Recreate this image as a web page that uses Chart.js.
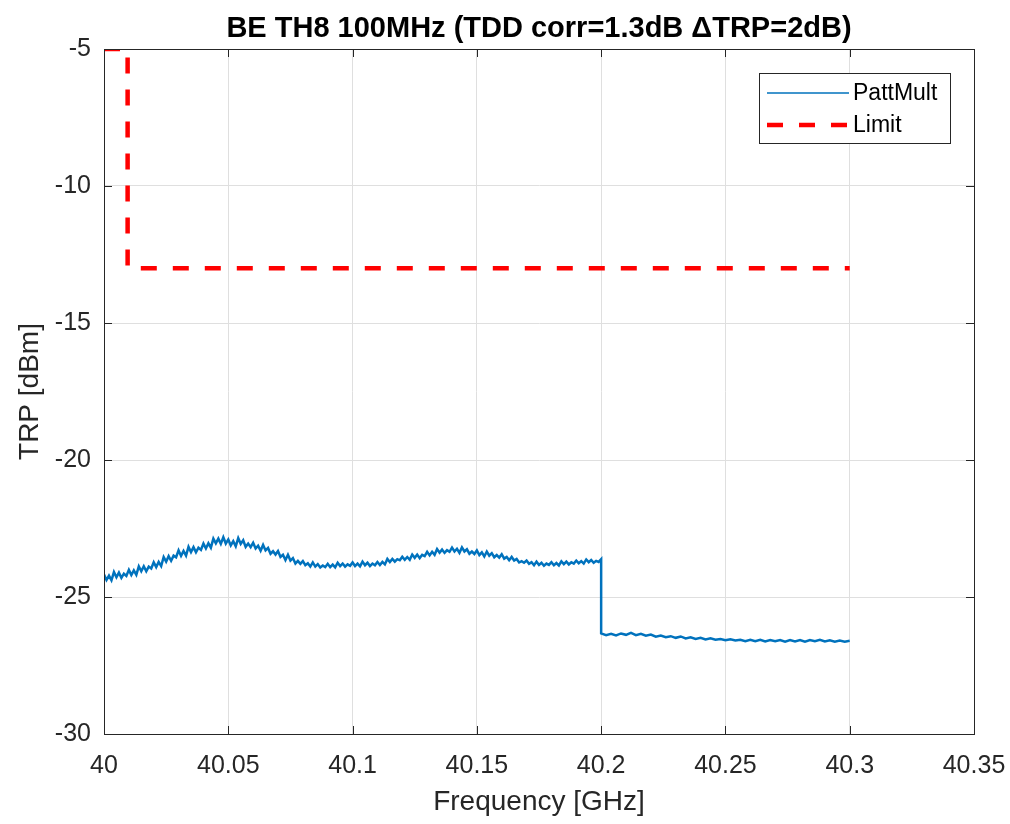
<!DOCTYPE html>
<html>
<head>
<meta charset="utf-8">
<script src="https://cdn.jsdelivr.net/npm/chart.js@4/dist/chart.umd.min.js"></script>
<style>
html,body{margin:0;padding:0;background:#fff;}
#wrap{width:1010px;height:824px;}
</style>
</head>
<body>
<div id="wrap"><canvas id="c" width="1010" height="824"></canvas></div>
<script>
// ---- data ----
const titleText = 'BE TH8 100MHz (TDD corr=1.3dB \u0394TRP=2dB)';
const xTitle = 'Frequency [GHz]';
const yTitle = 'TRP [dBm]';
const xTicks = [40, 40.05, 40.1, 40.15, 40.2, 40.25, 40.3, 40.35];
const xTickLabels = ['40', '40.05', '40.1', '40.15', '40.2', '40.25', '40.3', '40.35'];
const yTicks = [-30, -25, -20, -15, -10, -5];
const yTickLabels = ['-30', '-25', '-20', '-15', '-10', '-5'];

// PattMult, 40.000 .. 40.100 GHz, 1 MHz sampling
const pattStart1 = 40.000, pattStep1 = 0.001;
const pattTrp1 = [
-24.18,-24.38,-24.22,-24.39,-24.09,-24.28,-24.11,-24.30,-24.15,-24.23,
-24.01,-24.20,-24.03,-24.19,-23.88,-24.06,-23.88,-24.06,-23.89,-23.96,
-23.73,-23.91,-23.72,-23.87,-23.54,-23.71,-23.51,-23.68,-23.49,-23.55,
-23.30,-23.50,-23.32,-23.49,-23.17,-23.36,-23.18,-23.37,-23.20,-23.28,
-23.05,-23.23,-23.04,-23.20,-22.87,-23.04,-22.87,-23.06,-22.82,-23.05,
-22.90,-23.12,-22.96,-23.15,-22.85,-23.06,-22.93,-23.17,-23.05,-23.18,
-23.02,-23.23,-23.13,-23.31,-23.10,-23.30,-23.21,-23.42,-23.33,-23.45,
-23.32,-23.54,-23.46,-23.65,-23.46,-23.67,-23.58,-23.78,-23.68,-23.79,
-23.69,-23.84,-23.77,-23.89,-23.74,-23.89,-23.80,-23.92,-23.85,-23.91,
-23.79,-23.91,-23.82,-23.92,-23.75,-23.87,-23.78,-23.89,-23.81,-23.86,
-23.74
];
// PattMult, 40.101 .. 40.200 GHz, 1 MHz sampling
const pattStart2 = 40.101, pattStep2 = 0.001;
const pattTrp2 = [
-23.87,-23.78,-23.88,-23.71,-23.84,-23.75,-23.87,-23.78,-23.84,-23.72,
-23.83,-23.72,-23.81,-23.61,-23.72,-23.61,-23.71,-23.62,-23.66,-23.53,
-23.64,-23.54,-23.64,-23.45,-23.57,-23.45,-23.58,-23.46,-23.51,-23.35,
-23.48,-23.35,-23.46,-23.25,-23.38,-23.27,-23.39,-23.29,-23.35,-23.20,
-23.34,-23.24,-23.39,-23.19,-23.34,-23.26,-23.42,-23.34,-23.43,-23.30,
-23.47,-23.37,-23.52,-23.34,-23.49,-23.40,-23.55,-23.47,-23.56,-23.44,
-23.60,-23.54,-23.66,-23.54,-23.67,-23.61,-23.74,-23.69,-23.75,-23.67,
-23.79,-23.73,-23.84,-23.71,-23.83,-23.75,-23.86,-23.78,-23.83,-23.73,
-23.84,-23.76,-23.85,-23.70,-23.80,-23.71,-23.81,-23.73,-23.78,-23.67,
-23.77,-23.69,-23.78,-23.63,-23.73,-23.65,-23.75,-23.68,-23.72,-23.62
];
// PattMult, 40.200 .. 40.300 GHz, 2 MHz sampling (after the step)
const pattStart3 = 40.200, pattStep3 = 0.002;
const pattTrp3 = [
-26.33,-26.39,-26.34,-26.40,-26.33,-26.38,-26.31,-26.39,-26.34,-26.41,
-26.37,-26.45,-26.41,-26.47,-26.43,-26.49,-26.44,-26.51,-26.47,-26.53,
-26.49,-26.55,-26.51,-26.56,-26.53,-26.58,-26.54,-26.59,-26.56,-26.61,
-26.56,-26.61,-26.56,-26.62,-26.57,-26.61,-26.57,-26.63,-26.57,-26.62,
-26.57,-26.63,-26.57,-26.61,-26.56,-26.62,-26.58,-26.63,-26.59,-26.63,
-26.60
];

const limitFreq = [40.0, 40.0095, 40.0095, 40.3];
const limitTrp = [-5, -5, -13, -13];

// ---- build library data ----
function seg(start, step, vals){ return vals.map((v,i)=>({x: +(start + i*step).toFixed(4), y: v})); }
const pattData = [].concat(seg(pattStart1,pattStep1,pattTrp1), seg(pattStart2,pattStep2,pattTrp2), seg(pattStart3,pattStep3,pattTrp3));
const limitData = limitFreq.map((f,i)=>({x:f, y:limitTrp[i]}));

const AX = '#262626';
const FONT = '"Liberation Sans", Arial, Helvetica, sans-serif';

const boxPlugin = {
  id: 'boxPlugin',
  afterDraw(chart){
    const ctx = chart.ctx, a = chart.chartArea;
    const xs = chart.scales.x, ys = chart.scales.y;
    ctx.save();
    // frame
    ctx.strokeStyle = AX; ctx.lineWidth = 1;
    ctx.strokeRect(Math.round(a.left)+0.5, Math.round(a.top)+0.5, Math.round(a.right-a.left), Math.round(a.bottom-a.top));
    // inner tick marks
    ctx.beginPath();
    xTicks.forEach(v=>{
      const p = Math.round(xs.getPixelForValue(v))+0.5;
      ctx.moveTo(p, a.bottom); ctx.lineTo(p, a.bottom-8);
      ctx.moveTo(p, a.top); ctx.lineTo(p, a.top+8);
    });
    yTicks.forEach(v=>{
      const p = Math.round(ys.getPixelForValue(v))+0.5;
      ctx.moveTo(a.left, p); ctx.lineTo(a.left+8, p);
      ctx.moveTo(a.right, p); ctx.lineTo(a.right-8, p);
    });
    ctx.stroke();
    // titles
    ctx.fillStyle = '#000';
    ctx.font = 'bold 29px ' + FONT;
    ctx.textAlign = 'center'; ctx.textBaseline = 'middle';
    ctx.fillText(titleText, (a.left+a.right)/2, 29);
    ctx.fillStyle = AX;
    ctx.font = '28px ' + FONT;
    ctx.fillText(xTitle, (a.left+a.right)/2, 802);
    ctx.save();
    ctx.translate(30, (a.top+a.bottom)/2);
    ctx.rotate(-Math.PI/2);
    ctx.fillText(yTitle, 0, 0);
    ctx.restore();
    // legend
    const lx = 759, ly = 73, lw = 191, lh = 70;
    ctx.fillStyle = '#fff';
    ctx.fillRect(lx, ly, lw, lh);
    ctx.strokeStyle = AX; ctx.lineWidth = 1;
    ctx.strokeRect(lx+0.5, ly+0.5, lw, lh);
    const ds = chart.data.datasets;
    const rows = [ly+20, ly+52];
    ds.forEach((d,i)=>{
      ctx.save();
      ctx.strokeStyle = d.borderColor; ctx.lineWidth = i===0 ? 1.5 : d.borderWidth;
      ctx.setLineDash(d.borderDash || []);
      ctx.beginPath(); ctx.moveTo(lx+8, rows[i]); ctx.lineTo(lx+90, rows[i]); ctx.stroke();
      ctx.restore();
      ctx.fillStyle = '#000';
      ctx.font = '23px ' + FONT;
      ctx.textAlign = 'left'; ctx.textBaseline = 'middle';
      ctx.fillText(d.label, lx+94, rows[i]+1);
    });
    ctx.restore();
  }
};

new Chart(document.getElementById('c'), {
  type: 'line',
  data: {
    datasets: [
      {label:'PattMult', data: pattData, borderColor:'#0072BD', borderWidth:2.5, pointRadius:0, tension:0, fill:false},
      {label:'Limit', data: limitData, borderColor:'#FF0000', borderWidth:4.5, borderDash:[16,16], pointRadius:0, tension:0, fill:false, borderCapStyle:'butt'}
    ]
  },
  options: {
    responsive:false, animation:false, devicePixelRatio:1,
    layout:{padding:{top:49, right:36, left:0, bottom:0}},
    plugins:{legend:{display:false}, title:{display:false}, tooltip:{enabled:false}},
    scales:{
      x:{
        type:'linear', min:40, max:40.35,
        afterBuildTicks(s){ s.ticks = xTicks.map(v=>({value:v})); },
        afterFit(s){ s.height = 90; s.paddingLeft = 0; s.paddingRight = 0; },
        ticks:{autoSkip:false, maxRotation:0, padding:17, color:AX, font:{family:FONT, size:25},
          callback(v){ const i = xTicks.indexOf(v); return i>=0 ? xTickLabels[i] : ''; }},
        grid:{color:'#dfdfdf', drawTicks:false, lineWidth:1},
        border:{display:true, color:AX, width:1}
      },
      y:{
        type:'linear', min:-30, max:-5,
        afterBuildTicks(s){ s.ticks = yTicks.map(v=>({value:v})); },
        afterFit(s){ s.width = 104; s.paddingTop = 0; s.paddingBottom = 0; },
        ticks:{autoSkip:false, padding:13, color:AX, font:{family:FONT, size:25},
          callback(v){ const i = yTicks.indexOf(v); return i>=0 ? yTickLabels[i] : ''; }},
        grid:{color:'#dfdfdf', drawTicks:false, lineWidth:1},
        border:{display:true, color:AX, width:1}
      }
    }
  },
  plugins:[boxPlugin]
});
</script>
</body>
</html>
